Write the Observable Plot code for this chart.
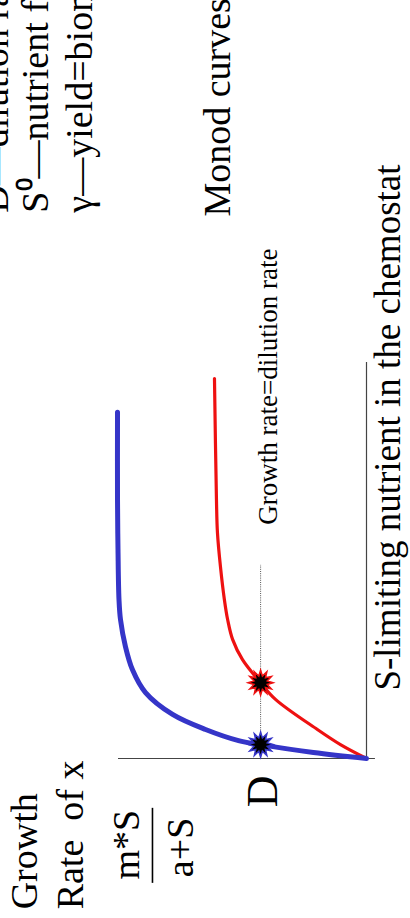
<!DOCTYPE html>
<html>
<head>
<meta charset="utf-8">
<script src="https://cdn.jsdelivr.net/npm/d3@7"></script>
<script src="https://cdn.jsdelivr.net/npm/@observablehq/plot@0.6"></script>
<style>
  html, body { margin: 0; padding: 0; background: white; overflow: hidden; width: 410px; height: 918px; }
  #wrap { position: absolute; left: 0; top: 0; width: 918px; height: 410px;
          transform-origin: 0 0; transform: translateY(918px) rotate(-90deg); overflow: hidden; background: white; }
</style>
</head>
<body>
<div id="wrap"></div>
<script>
// Monod curve samples (S = limiting nutrient, rate = growth rate)
const blueS    = [0, 0.15, 0.35, 0.45, 0.73, 1.11, 1.66, 2.24, 2.82, 3.50, 4.0, 5.26, 6.52, 8.72];
const blueRate = [0, 0.214, 0.427, 0.516, 0.649, 0.782, 0.891, 0.944, 0.972, 0.992, 0.998, 1.002, 1.004, 1.004];
const redS     = [0, 0.35, 0.73, 1.49, 1.91, 2.49, 3.0, 3.5, 4.0, 4.84, 5.69, 6.52, 9.57];
const redRate  = [0, 0.105, 0.198, 0.367, 0.427, 0.5, 0.54, 0.56, 0.573, 0.589, 0.601, 0.605, 0.613];

// Dilution rate D and the equilibrium points
const dilutionRate = 0.427;
const dilutionLineEnd = 4.89;
const starS = [0.35, 1.91];
const starColors = ["#3535c8", "#ee1111"];

// Axis extents
const xAxisEnd = 10;
const yAxisTop = 1.0;
const yAxisBottom = -0.036;

// Labels: text, x (S units), baseline y (rate units), size, anchor
const labelText   = ["Growth", "Rate  of x", "m*S", "a+S", "D", "Growth rate=dilution rate",
                     "S-limiting nutrient in the chemostat", "Monod curves",
                     "D\u2014dilution rate", "S\u2070\u2014nutrient feed concentration", "\u03b3\u2014yield=biomass/nutrient"];
const labelX      = [-3.80, -3.80, -2.17, -2.24, -0.83, 5.89, 1.71, 13.65, 13.75, 13.75, 13.75];
const labelY      = [1.327, 1.145, 0.919, 0.698, 0.359, 0.359, -0.137, 0.552, 1.444, 1.286, 1.105];
const labelSize   = [38, 38, 38, 38, 44, 27, 37, 38, 38, 38, 38];
const labelAnchor = ["start", "start", "middle", "middle", "middle", "start", "start", "start", "start", "start", "start"];

// Fraction bar of m*S / (a+S)
const fracBar = {x1: -3.12, x2: -1.23, y: 0.863};

const blue = blueS.map((s, i) => ({S: s, rate: blueRate[i]}));
const red = redS.map((s, i) => ({S: s, rate: redRate[i]}));
const stars = starS.map((s, i) => ({S: s, rate: dilutionRate, color: starColors[i]}));
const labels = labelText.map((t, i) => ({text: t, S: labelX[i], rate: labelY[i], size: labelSize[i], anchor: labelAnchor[i]}));

const burst = {
  draw(context, size) {
    const R = Math.sqrt(size / Math.PI);
    const n = 12;
    for (let k = 0; k < 2 * n; k++) {
      const r = k % 2 === 0 ? R : R * 0.55;
      const a = (k * Math.PI) / n - Math.PI / 2;
      const px = r * Math.cos(a), py = r * Math.sin(a);
      if (k === 0) context.moveTo(px, py); else context.lineTo(px, py);
    }
    context.closePath();
  }
};

const textMarks = ["start", "middle"].flatMap(anchor =>
  [27, 37, 38, 44].map(size =>
    Plot.text(labels.filter(d => d.anchor === anchor && d.size === size), {
      x: "S", y: "rate", text: "text", textAnchor: anchor, lineAnchor: "bottom",
      fontSize: size, fontFamily: "Liberation Serif", fill: "black"
    })
  )
);

const chart = Plot.plot({
  width: 918,
  height: 410,
  marginLeft: 159,
  marginRight: 362,
  marginTop: 118,
  marginBottom: 44,
  x: {domain: [0, 10], axis: null},
  y: {domain: [0, 1], axis: null},
  style: {fontFamily: "Liberation Serif", background: "white", overflow: "hidden"},
  marks: [
    Plot.ruleX([0], {y1: yAxisBottom, y2: yAxisTop, stroke: "#444", strokeWidth: 1.2}),
    Plot.ruleY([0], {x1: 0, x2: xAxisEnd, stroke: "#444", strokeWidth: 1.2}),
    Plot.ruleY([dilutionRate], {x1: 0, x2: dilutionLineEnd, stroke: "#555", strokeWidth: 1, strokeDasharray: "1,1.2"}),
    Plot.line(red, {x: "S", y: "rate", stroke: "#ee1111", strokeWidth: 3.2, curve: "catmull-rom"}),
    Plot.line(blue, {x: "S", y: "rate", stroke: "#3535c8", strokeWidth: 5, curve: "catmull-rom"}),
    Plot.dot(stars, {x: "S", y: "rate", r: 12.5, symbol: burst, fill: "black", stroke: "color", strokeWidth: 1.5}),
    Plot.ruleY([fracBar.y], {x1: fracBar.x1, x2: fracBar.x2, stroke: "black", strokeWidth: 1.6}),
    ...textMarks
  ]
});
document.getElementById("wrap").appendChild(chart);
</script>
</body>
</html>
